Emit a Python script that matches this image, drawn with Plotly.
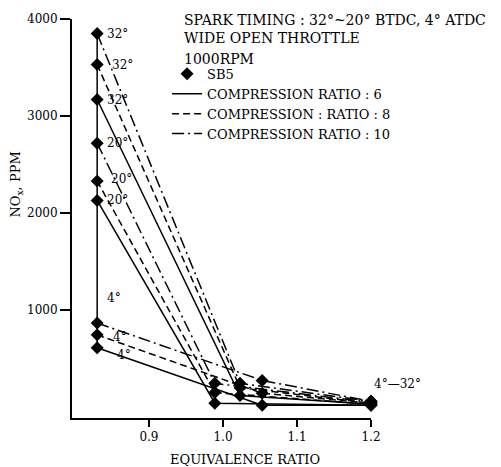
import plotly.graph_objects as go

# ---- data ----
phi_lean = 0.83            # SB5 lean equivalence ratio
phi_end = 1.2              # rich end point
timings = ["32°", "20°", "4°"]
cr_names = ["COMPRESSION RATIO : 6", "COMPRESSION : RATIO : 8", "COMPRESSION RATIO : 10"]

# NOx at phi=0.83 for timings 32°, 20°, 4°
nox_lean_cr6 = [3170, 2130, 612]
nox_lean_cr8 = [3530, 2330, 745]
nox_lean_cr10 = [3850, 2720, 867]

# intermediate point (phi, NOx) per timing
phi_mid = [1.023, 0.989, 1.053]
nox_mid_cr6 = [120, 40, 20]
nox_mid_cr8 = [200, 150, 143]
nox_mid_cr10 = [245, 245, 275]

# NOx at phi=1.2
nox_end_cr6 = [30, 20, 20]
nox_end_cr8 = [40, 30, 40]
nox_end_cr10 = [60, 50, 60]

FONT = "DejaVu Serif"
series = [
    (cr_names[0], nox_lean_cr6, nox_mid_cr6, nox_end_cr6, "solid"),
    (cr_names[1], nox_lean_cr8, nox_mid_cr8, nox_end_cr8, "7px,4px"),
    (cr_names[2], nox_lean_cr10, nox_mid_cr10, nox_end_cr10, "12px,4px,2px,4px"),
]

fig = go.Figure()

# vertical connector at phi=0.83
all_lean = nox_lean_cr6 + nox_lean_cr8 + nox_lean_cr10
fig.add_trace(go.Scatter(x=[phi_lean, phi_lean], y=[max(all_lean), min(all_lean)],
                         mode="lines", line=dict(color="black", width=1.5),
                         showlegend=False, hoverinfo="skip"))

# SB5 markers (all points)
mx, my = [], []
for name, lean, mid, end, dash in series:
    for i in range(3):
        mx += [phi_lean, phi_mid[i], phi_end]
        my += [lean[i], mid[i], end[i]]
fig.add_trace(go.Scatter(x=mx, y=my, mode="markers", name="SB5",
                         marker=dict(symbol="diamond", size=10, color="black"),
                         cliponaxis=False))

for name, lean, mid, end, dash in series:
    for i in range(3):
        fig.add_trace(go.Scatter(
            x=[phi_lean, phi_mid[i], phi_end], y=[lean[i], mid[i], end[i]],
            mode="lines", line=dict(color="black", width=1.5, dash=dash),
            name=name, legendgroup=name, showlegend=(i == 0), cliponaxis=False))

# point labels
lab_font = dict(family=FONT, size=12, color="black")
label_specs = [
    (nox_lean_cr10[0], timings[0], 8, 0), (nox_lean_cr8[0], timings[0], 13, 0),
    (nox_lean_cr6[0], timings[0], 8, 0),
    (nox_lean_cr10[1], timings[1], 8, 0), (nox_lean_cr8[1], timings[1], 12, 2),
    (nox_lean_cr6[1], timings[1], 8, 0),
    (nox_lean_cr10[2], timings[2], 8, 25), (nox_lean_cr8[2], timings[2], 14, -2),
    (nox_lean_cr6[2], timings[2], 18, -7),
]
for yv, txt, xs, ys in label_specs:
    fig.add_annotation(x=phi_lean, y=yv, text=txt, showarrow=False, xanchor="left",
                       yanchor="middle", xshift=xs, yshift=ys, font=lab_font)
fig.add_annotation(x=phi_end, y=nox_end_cr10[0], text="4°—32°", showarrow=False,
                   xanchor="left", yanchor="middle", xshift=1, yshift=17, font=lab_font)

# header text
head_font = dict(family=FONT, size=14, color="black")
for txt, yp in [("SPARK TIMING : 32°~20° BTDC, 4° ATDC", 0.997),
                ("WIDE OPEN THROTTLE", 0.953),
                ("1000RPM", 0.900)]:
    fig.add_annotation(xref="paper", yref="paper", x=0.368, y=yp, text=txt,
                       showarrow=False, xanchor="left", yanchor="middle", font=head_font)

# axis titles
fig.add_annotation(xref="paper", yref="paper", x=0.58, y=-0.103, text="EQUIVALENCE RATIO",
                   showarrow=False, xanchor="center", yanchor="middle",
                   font=dict(family=FONT, size=13, color="black"))
fig.add_annotation(xref="paper", yref="paper", x=-0.184, y=0.585, text="NO<sub>x</sub>, PPM",
                   showarrow=False, textangle=-90, xanchor="center", yanchor="middle",
                   font=dict(family=FONT, size=13, color="black"))

fig.update_layout(
    width=501, height=467,
    margin=dict(l=72, r=130, t=15, b=49),
    paper_bgcolor="white", plot_bgcolor="white",
    font=dict(family=FONT, size=12, color="black"),
    showlegend=True,
    legend=dict(x=0.318, y=0.900, xanchor="left", yanchor="top",
                bgcolor="rgba(0,0,0,0)", font=dict(family=FONT, size=13),
                tracegroupgap=0, itemwidth=30),
    xaxis=dict(range=[0.796, 1.2], tickvals=[0.9, 1.0, 1.1, 1.2],
               ticktext=["0.9", "1.0", "1.1", "1.2"], showgrid=False, zeroline=False,
               showline=True, linecolor="black", linewidth=2, ticks="outside",
               ticklen=7, tickwidth=2, tickcolor="black",
               tickfont=dict(family=FONT, size=12)),
    yaxis=dict(range=[-112, 4000], tickvals=[1000, 2000, 3000, 4000],
               showgrid=False, zeroline=False, showline=True, linecolor="black",
               linewidth=2, ticks="outside", ticklen=10, tickwidth=2, tickcolor="black",
               tickfont=dict(family=FONT, size=12)),
)

fig.write_html("out.html")
